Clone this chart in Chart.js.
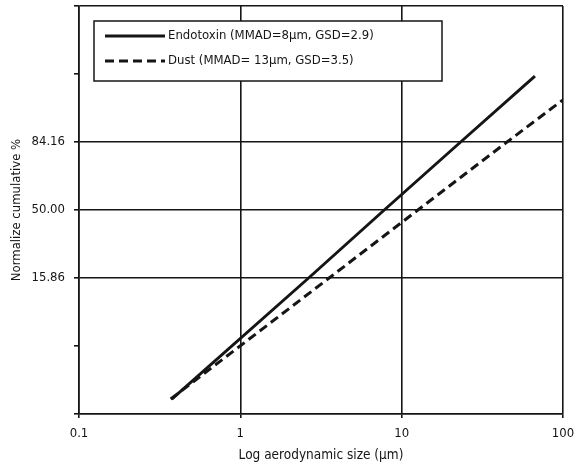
<!DOCTYPE html>
<html>
<head>
<meta charset="utf-8">
<script src="https://cdn.jsdelivr.net/npm/chart.js@4/dist/chart.umd.min.js"></script>
<style>
  html, body { margin: 0; padding: 0; background: #fff; }
  #wrap { width: 584px; height: 464px; position: relative; }
</style>
</head>
<body>
<div id="wrap"><canvas id="probitChart"></canvas></div>
<script>
// ==========================================
// DATA
// ==========================================
// y values are probit units (z), the axis shows them as cumulative %
const endoSize = [0.376, 2.65, 7.8, 23.2, 67];
const endoZ = [-2.78, -1, 0, 1, 1.97];
const dustSize = [0.37, 3.55, 12.6, 45, 100];
const dustZ = [-2.78, -1, 0, 1, 1.62];

const xTicks = [0.1, 1, 10, 100];
const yTickZ = [-1, 0, 1];
const yTickLabels = ["15.86", "50.00", "84.16"];

const seriesNames = [
  "Endotoxin (MMAD=8\u00b5m, GSD=2.9)",
  "Dust (MMAD= 13\u00b5m, GSD=3.5)",
];

const FONT = "'Liberation Sans Narrow', 'DejaVu Sans Condensed', 'Liberation Sans', sans-serif";
const INK = "#151515";

const toPoints = (xs, ys) => xs.map((x, i) => ({ x: x, y: ys[i] }));

// ==========================================
// legend box drawn inside the plot area
// ==========================================
const boxLegend = {
  id: "boxLegend",
  afterDraw(chart) {
    const ctx = chart.ctx;
    const left = 94, top = 21, right = 442, bottom = 81;
    ctx.save();
    ctx.fillStyle = "#fff";
    ctx.fillRect(left, top, right - left, bottom - top);
    ctx.strokeStyle = INK;
    ctx.lineWidth = 1.5;
    ctx.strokeRect(left, top, right - left, bottom - top);

    chart.data.datasets.forEach((ds, i) => {
      const y = 36 + i * 25;
      ctx.beginPath();
      ctx.setLineDash(ds.borderDash || []);
      ctx.lineWidth = ds.borderWidth;
      ctx.strokeStyle = ds.borderColor;
      ctx.moveTo(105, y);
      ctx.lineTo(165, y);
      ctx.stroke();
      ctx.setLineDash([]);
      ctx.fillStyle = INK;
      ctx.font = "13px " + FONT;
      ctx.textBaseline = "middle";
      ctx.textAlign = "left";
      ctx.fillText(ds.label, 168, y);
    });
    ctx.restore();
  },
};

const ctx = document.getElementById("probitChart").getContext("2d");

new Chart(ctx, {
  type: "line",
  data: {
    datasets: [
      {
        label: seriesNames[0],
        data: toPoints(endoSize, endoZ),
        borderColor: INK,
        borderWidth: 3,
        pointRadius: 0,
        tension: 0,
      },
      {
        label: seriesNames[1],
        data: toPoints(dustSize, dustZ),
        borderColor: INK,
        borderWidth: 3,
        borderDash: [9, 5],
        pointRadius: 0,
        tension: 0,
      },
    ],
  },
  options: {
    responsive: true,
    maintainAspectRatio: false,
    animation: false,
    layout: { padding: { top: 6, right: 21, left: 0, bottom: 0 } },
    plugins: {
      legend: { display: false },
      tooltip: { enabled: false },
    },
    scales: {
      x: {
        type: "logarithmic",
        min: 0.1,
        max: 100,
        afterBuildTicks(scale) {
          scale.ticks = xTicks.map((v) => ({ value: v }));
        },
        afterFit(scale) {
          scale.height = 50;
        },
        ticks: {
          color: INK,
          font: { family: FONT, size: 13 },
          padding: 8,
          maxRotation: 0,
          callback: (v) => String(v),
        },
        grid: {
          color: INK,
          lineWidth: 1.6,
          tickLength: 4,
          tickColor: INK,
        },
        border: { color: INK, width: 1.6 },
        title: {
          display: true,
          text: "Log aerodynamic size (\u00b5m)",
          color: INK,
          font: { family: FONT, size: 13.5 },
          padding: { top: 0, bottom: 0 },
        },
      },
      y: {
        type: "linear",
        min: -3,
        max: 3,
        ticks: {
          stepSize: 1,
          color: INK,
          font: { family: FONT, size: 13 },
          padding: 9,
          callback: (v) => {
            const i = yTickZ.indexOf(v);
            return i >= 0 ? yTickLabels[i] : "";
          },
        },
        afterFit(scale) {
          scale.width = 79;
          // the outer labels are empty, so no room is needed for them
          scale.paddingTop = 0;
          scale.paddingBottom = 0;
        },
        grid: {
          color: (c) =>
            c.tick && (yTickZ.includes(c.tick.value) || Math.abs(c.tick.value) === 3)
              ? INK
              : "rgba(0,0,0,0)",
          lineWidth: 1.6,
          tickLength: 5,
          tickColor: INK,
        },
        border: { color: INK, width: 1.6 },
        title: {
          display: true,
          text: "Normalize cumulative %",
          color: INK,
          font: { family: FONT, size: 13 },
          padding: { top: 9, bottom: 0 },
        },
      },
    },
  },
  plugins: [boxLegend],
});
</script>
</body>
</html>
